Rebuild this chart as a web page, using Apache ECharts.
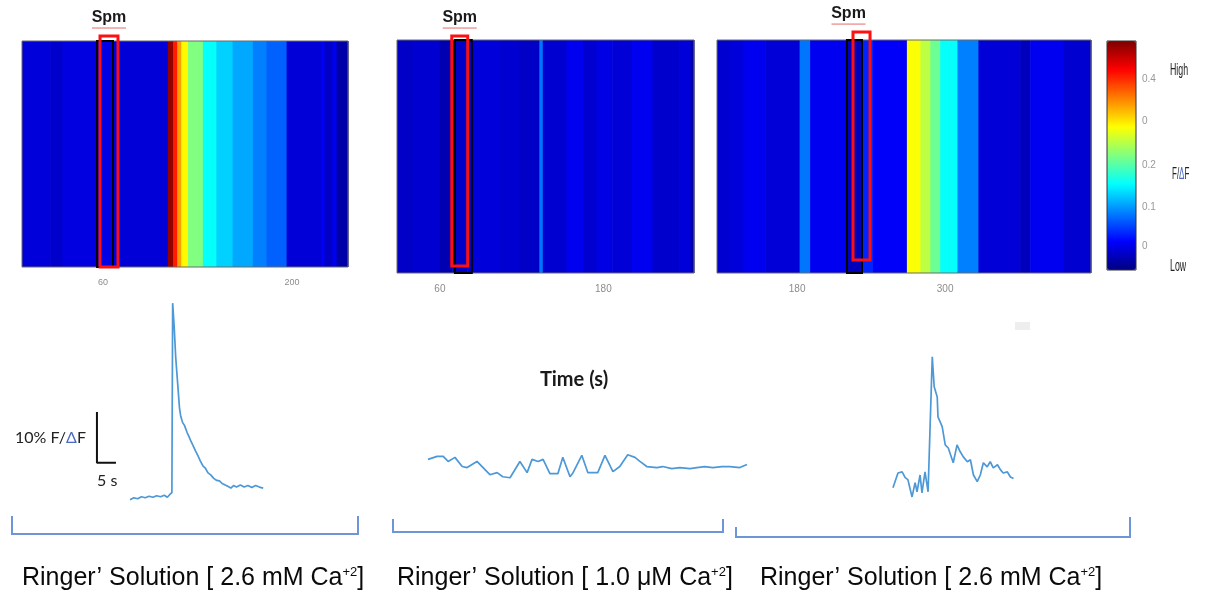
<!DOCTYPE html>
<html>
<head>
<meta charset="utf-8">
<script src="https://cdn.jsdelivr.net/npm/echarts@6.0.0/dist/echarts.min.js"></script>
<style>
  html, body { margin: 0; background: #fff; }
  #main { width: 1206px; height: 596px; }
</style>
</head>
<body>
<div id="main"></div>
<script>
  // heatmap bands: [start (s), end (s), ΔF/F]
  const heat1Bands = [
    [0, 21, 0.045], [21, 30, 0.038], [30, 58, 0.048], [58, 70, 0.05], [70, 108, 0.043],
    [108, 112, 0.49], [112, 115, 0.425], [115, 118, 0.36], [118, 123, 0.315], [123, 134, 0.25],
    [134, 144, 0.19], [144, 156, 0.165], [156, 171, 0.145], [171, 181, 0.125], [181, 196, 0.11],
    [196, 222, 0.043], [222, 224, 0.06], [224, 230, 0.035], [230, 233, 0.055], [233, 241.5, 0.02]
  ]
  const heat2Bands = [
    [28.5, 40, 0.035], [40, 60, 0.04], [60, 69, 0.025], [69, 80, 0.035], [80, 104, 0.045],
    [104, 118, 0.04], [118, 133, 0.035], [133, 135.5, 0.12], [135.5, 153, 0.04], [153, 165, 0.055],
    [165, 175, 0.04], [175, 186.5, 0.05], [186.5, 201, 0.043], [201, 216, 0.055], [216, 235.5, 0.038],
    [235.5, 244, 0.045], [244, 246.5, 0.02]
  ]
  const heat3Bands = [
    [115, 125.5, 0.04], [125.5, 136, 0.045], [136, 154, 0.055], [154, 182, 0.043], [182, 190.5, 0.12],
    [190.5, 220.5, 0.055], [220.5, 233.5, 0.03], [233.5, 241.5, 0.08], [241.5, 269, 0.06],
    [269, 280, 0.31], [280, 288, 0.28], [288, 296, 0.24], [296, 310, 0.19], [310, 327, 0.125],
    [327, 361, 0.043], [361, 369, 0.03], [369, 396, 0.055], [396, 418.3, 0.04]
  ]
  const heatTicks1 = [60, 200]
  const heatTicks2 = [60, 180]
  const heatTicks3 = [180, 300]

  // Spm windows (s): [red start, red end, black start, black end]
  const spm1 = [[57.8, 71.1, 55.6, 67.4]]
  const spm2 = [[68.7, 80.4, 71, 83.4]]
  const spm3 = [[225.3, 239.1, 220.4, 232.6]]

  const colorbarTicks = [0.105, 0.275, 0.459, 0.651, 0.834]
  const colorbarLabels = ['0', '0.1', '0.2', '0', '0.4']

  // traces: [time (s), %ΔF/F]
  const trace1 = [
    [0, 0], [1, 0.4], [2, 0.2], [3, 0.6], [4, 0.4], [5, 0.7], [6, 0.5], [7, 0.8], [8, 0.6],
    [9, 0.9], [9.8, 0.5], [10.4, 1.0], [11, 1.4], [11.2, 38.6], [11.6, 34], [12, 28], [12.5, 23],
    [13, 18], [13.3, 16.5], [13.8, 15.2], [14.3, 14.6], [15, 13.2], [15.5, 12.4], [16, 11.5],
    [16.6, 10.6], [17.2, 9.6], [17.8, 8.7], [18.5, 7.6], [19.2, 6.6], [19.8, 6.2], [20.5, 5.3],
    [21.2, 4.9], [22, 4.2], [22.8, 3.8], [23.5, 3.7], [24.2, 3.2], [25, 2.9], [25.8, 2.6],
    [26.5, 2.3], [27.2, 2.8], [28, 2.5], [29, 2.9], [30, 2.5], [31, 2.8], [32, 2.4], [33, 2.8],
    [34, 2.5], [35, 2.3]
  ]
  const trace2 = [
    [0, 2.0], [2.4, 2.6], [4.0, 2.6], [5.3, 1.6], [7.1, 2.4], [9.0, 0.6], [10.3, 0.4], [12.9, 1.6],
    [14.5, 0.4], [16.3, -1.0], [18.2, -0.6], [19.7, -1.4], [21.6, -1.6], [24.2, 1.6], [26.1, -0.6],
    [27.4, 2.0], [29.0, 1.6], [30.3, 2.0], [32.1, -0.8], [34.2, -0.8], [35.5, 2.4], [37.4, -1.4],
    [38.2, -0.6], [40.5, 2.8], [42.1, -0.6], [44.7, -0.6], [46.6, 2.8], [48.7, -0.4], [50.5, 0.6],
    [52.6, 2.9], [54.5, 2.4], [55.8, 1.6], [57.6, 0.6], [60.3, 0.4], [61.8, 0.6], [64.2, 0.2],
    [66.3, 0.4], [69.0, 0.2], [70.8, 0.4], [72.9, 0.6], [75.0, 0.4], [77.4, 0.6], [79.5, 0.6],
    [82.1, 0.4], [84.0, 1.0]
  ]
  const trace3 = [
    [0, 0.4], [1.3, 3.3], [2.4, 3.5], [3.2, 2.4], [3.9, 2.0], [5.0, -1.4], [5.8, 1.4], [6.3, -0.4],
    [7.1, 2.9], [7.6, -0.6], [8.4, 3.5], [9.2, -0.4], [10.3, 26.1], [10.8, 20.2], [11.6, 18.2],
    [11.8, 14.3], [12.9, 12.4], [13.7, 8.8], [14.5, 8.2], [15.8, 5.3], [16.8, 8.8], [17.6, 7.5],
    [18.4, 6.5], [19.5, 5.5], [20.3, 5.9], [21.1, 2.9], [22.1, 1.6], [22.9, 2.9], [23.7, 5.3],
    [24.7, 4.5], [25.5, 5.5], [26.3, 4.3], [27.4, 4.9], [28.2, 3.9], [28.9, 3.3], [30.0, 3.5],
    [30.8, 2.5], [31.6, 2.2]
  ]
  // scale bar: 10 % ΔF/F by 5 s, drawn in trace 1 units
  const scaleBar = [[-8.7, 17.25], [-8.7, 7.25], [-3.7, 7.25]]

  const conditions = [
    'Ringer’ Solution [ 2.6 mM Ca{s|+2}]',
    'Ringer’ Solution [ 1.0 μM Ca{s|+2}]',
    'Ringer’ Solution [ 2.6 mM Ca{s|+2}]'
  ]

  const jet = ['#00007f', '#0000ff', '#0080ff', '#00ffff', '#80ff80', '#ffff00', '#ff8000', '#ff0000', '#7f0000']

  const chart = echarts.init(document.getElementById('main'))

  function renderBand(params, api) {
    const p0 = api.coord([api.value(0), 0])
    const p1 = api.coord([api.value(1), 1])
    return {
      type: 'rect',
      shape: { x: p0[0], y: p1[1], width: p1[0] - p0[0] + 0.6, height: p0[1] - p1[1] },
      style: { fill: api.visual('color') }
    }
  }

  // red Spm box, the black marker under it and the label
  function spmRenderer(yLow, yHigh, labelDx) {
    return function (params, api) {
      const r0 = api.coord([api.value(0), yLow])
      const r1 = api.coord([api.value(1), yHigh])
      const b0 = api.coord([api.value(2), 0])
      const b1 = api.coord([api.value(3), 1])
      const cx = (r0[0] + r1[0]) / 2 + labelDx
      return {
        type: 'group',
        children: [
          { type: 'rect', shape: { x: b0[0], y: b1[1], width: b1[0] - b0[0], height: b0[1] - b1[1] },
            style: { fill: null, stroke: '#000', lineWidth: 2 } },
          { type: 'rect', shape: { x: r0[0], y: r1[1], width: r1[0] - r0[0], height: r0[1] - r1[1] },
            style: { fill: null, stroke: '#ff1010', lineWidth: 3 } },
          { type: 'text', x: cx, y: r1[1] - 18,
            style: { text: 'Spm', font: 'bold 16px "Liberation Sans"', fill: '#1a1a1a', align: 'center', verticalAlign: 'middle' } },
          { type: 'line', shape: { x1: cx - 17, y1: r1[1] - 8, x2: cx + 17, y2: r1[1] - 8 },
            style: { stroke: '#e86a6a', lineWidth: 1 } }
        ]
      }
    }
  }

  const heatGrid = { show: true, z: 3, borderColor: '#6a6a6a', borderWidth: 1, backgroundColor: 'transparent', outerBoundsMode: 'none' }
  const plainGrid = { outerBoundsMode: 'none' }

  function heatX(gridIndex, min, max, ticks, fontSize) {
    return {
      type: 'value', gridIndex, min, max,
      axisLine: { show: false }, axisTick: { show: false }, splitLine: { show: false },
      axisLabel: { customValues: ticks, color: '#8c8c8c', fontSize, margin: 11, fontFamily: 'Liberation Sans' }
    }
  }
  function hiddenX(gridIndex, min, max) {
    return { type: 'value', gridIndex, min, max, show: false }
  }
  function hiddenY(gridIndex, min, max) {
    return { type: 'value', gridIndex, min, max, show: false }
  }

  function traceLine(data, idx) {
    return {
      type: 'line', xAxisIndex: idx, yAxisIndex: idx, data,
      showSymbol: false, symbol: 'none', animation: false,
      lineStyle: { color: '#4d98d6', width: 1.7 }
    }
  }

  const narrow = { font: '16px "Liberation Sans"', fill: '#222', verticalAlign: 'middle' }

  chart.setOption({
    animation: false,
    grid: [
      Object.assign({ left: 22, top: 41, width: 326, height: 226 }, heatGrid),
      Object.assign({ left: 397, top: 40, width: 297, height: 233 }, heatGrid),
      Object.assign({ left: 717, top: 40, width: 374, height: 233 }, heatGrid),
      { left: 1107, top: 41, width: 29, height: 229, show: true, z: 5, borderColor: '#333',
        borderWidth: 1, backgroundColor: 'transparent', outerBoundsMode: 'none' },
      Object.assign({ left: 92, top: 296, width: 175, height: 214 }, plainGrid),
      Object.assign({ left: 428, top: 439, width: 319, height: 51 }, plainGrid),
      Object.assign({ left: 893, top: 347, width: 122, height: 153 }, plainGrid)
    ],
    xAxis: [
      heatX(0, 0, 241.5, heatTicks1, 9),
      heatX(1, 28.5, 246.5, heatTicks2, 10),
      heatX(2, 115, 418.3, heatTicks3, 10),
      hiddenX(3, 0, 1),
      hiddenX(4, -10, 36),
      hiddenX(5, 0, 84),
      hiddenX(6, 0, 32)
    ],
    yAxis: [
      hiddenY(0, 0, 1),
      hiddenY(1, 0, 1),
      hiddenY(2, 0, 1),
      {
        type: 'value', gridIndex: 3, min: 0, max: 1, position: 'right',
        axisLine: { show: false }, splitLine: { show: false }, axisTick: { show: false },
        axisLabel: {
          customValues: colorbarTicks, color: '#999', fontSize: 10, margin: 6, fontFamily: 'Liberation Sans',
          formatter: v => colorbarLabels[colorbarTicks.indexOf(v)]
        }
      },
      hiddenY(4, -2, 40),
      hiddenY(5, -4, 6),
      hiddenY(6, -2, 28)
    ],
    visualMap: {
      type: 'continuous', min: 0, max: 0.5, dimension: 2, seriesIndex: [0, 1, 2],
      inRange: { color: jet }, orient: 'vertical', left: 1107, top: 41,
      itemWidth: 29, itemHeight: 229, padding: 0, calculable: false, hoverLink: false
    },
    series: [
      { type: 'custom', xAxisIndex: 0, yAxisIndex: 0, data: heat1Bands, encode: { x: [0, 1] }, renderItem: renderBand },
      { type: 'custom', xAxisIndex: 1, yAxisIndex: 1, data: heat2Bands, encode: { x: [0, 1] }, renderItem: renderBand },
      { type: 'custom', xAxisIndex: 2, yAxisIndex: 2, data: heat3Bands, encode: { x: [0, 1] }, renderItem: renderBand },
      { type: 'custom', xAxisIndex: 0, yAxisIndex: 0, data: spm1, encode: { x: [0, 1] }, z: 4, renderItem: spmRenderer(0, 1.022, 0) },
      { type: 'custom', xAxisIndex: 1, yAxisIndex: 1, data: spm2, encode: { x: [0, 1] }, z: 4, renderItem: spmRenderer(0.03, 1.017, 0) },
      { type: 'custom', xAxisIndex: 2, yAxisIndex: 2, data: spm3, encode: { x: [0, 1] }, z: 4, renderItem: spmRenderer(0.056, 1.034, -13) },
      traceLine(trace1, 4),
      traceLine(trace2, 5),
      traceLine(trace3, 6),
      {
        type: 'line', xAxisIndex: 4, yAxisIndex: 4, data: scaleBar,
        showSymbol: false, symbol: 'none', lineStyle: { color: '#111', width: 2 }
      }
    ],
    graphic: [
      { type: 'polyline', shape: { points: [[12, 516], [12, 534], [358, 534], [358, 516]] }, style: { stroke: '#6d95d8', lineWidth: 2, fill: null } },
      { type: 'polyline', shape: { points: [[393, 519], [393, 532], [723, 532], [723, 519]] }, style: { stroke: '#6d95d8', lineWidth: 2, fill: null } },
      { type: 'polyline', shape: { points: [[736, 527], [736, 537], [1130, 537], [1130, 517]] }, style: { stroke: '#6d95d8', lineWidth: 2, fill: null } },
      { type: 'rect', shape: { x: 1015, y: 322, width: 15, height: 8 }, style: { fill: '#eeeeee' } },
      { type: 'text', x: 574, y: 380, style: { text: 'Time (s)', font: 'bold 20px Lato', fill: '#1a1a1a', align: 'center', verticalAlign: 'middle' } },
      { type: 'text', x: 15, y: 438, style: { text: '10% F/{d|Δ}F', font: '16px Lato', fill: '#222', verticalAlign: 'middle',
          rich: { d: { font: '16px Lato', fill: '#4a68c2' } } } },
      { type: 'text', x: 97, y: 481, style: { text: '5 s', font: '16px Lato', fill: '#222', verticalAlign: 'middle' } },
      { type: 'text', x: 1170, y: 71, scaleX: 0.55, style: Object.assign({ text: 'High' }, narrow) },
      { type: 'text', x: 1172, y: 175, scaleX: 0.5, style: Object.assign({ text: 'F/{d|Δ}F',
          rich: { d: { font: '16px "Liberation Sans"', fill: '#4a68c2' } } }, narrow) },
      { type: 'text', x: 1170, y: 267, scaleX: 0.55, style: Object.assign({ text: 'Low' }, narrow) },
      { type: 'text', x: 22, y: 578, style: { text: conditions[0], font: '25px "Liberation Sans"', fill: '#0a0a0a', verticalAlign: 'middle',
          rich: { s: { font: '13px "Liberation Sans"', fill: '#0a0a0a', verticalAlign: 'top', lineHeight: 24 } } } },
      { type: 'text', x: 397, y: 578, style: { text: conditions[1], font: '25px "Liberation Sans"', fill: '#0a0a0a', verticalAlign: 'middle',
          rich: { s: { font: '13px "Liberation Sans"', fill: '#0a0a0a', verticalAlign: 'top', lineHeight: 24 } } } },
      { type: 'text', x: 760, y: 578, style: { text: conditions[2], font: '25px "Liberation Sans"', fill: '#0a0a0a', verticalAlign: 'middle',
          rich: { s: { font: '13px "Liberation Sans"', fill: '#0a0a0a', verticalAlign: 'top', lineHeight: 24 } } } }
    ]
  })
</script>
</body>
</html>
